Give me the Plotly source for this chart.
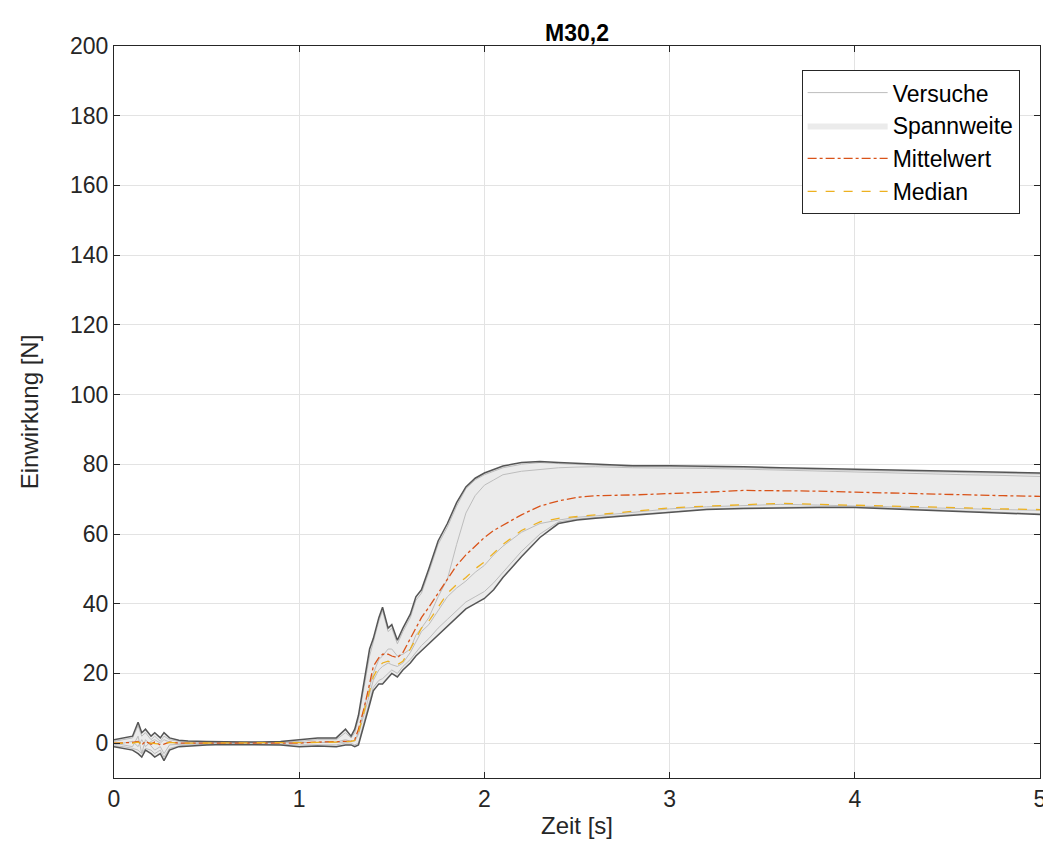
import plotly.graph_objects as go

# Common time base [s]
t = [0, 0.05, 0.1, 0.13, 0.15, 0.17, 0.2, 0.22, 0.25, 0.27, 0.3, 0.35, 0.4, 0.5, 0.6, 0.7, 0.8, 0.9,
     1.0, 1.1, 1.2, 1.25, 1.28, 1.3, 1.32, 1.35, 1.38, 1.4, 1.43, 1.45, 1.48, 1.5, 1.53, 1.56, 1.6,
     1.63, 1.66, 1.7, 1.75, 1.8, 1.85, 1.9, 1.95, 2.0, 2.05, 2.1, 2.2, 2.3, 2.4, 2.5, 2.6, 2.8, 3.0,
     3.2, 3.4, 3.6, 3.8, 4.0, 4.2, 4.4, 4.6, 4.8, 5.0]

# Range envelope (Spannweite)
upper = [1, 1.5, 2, 6, 3, 4, 2, 3, 1.5, 3, 1.5, 0.8, 0.6, 0.5, 0.3, 0.3, 0.3, 0.5,
         1, 1.5, 1.5, 4, 2, 4, 8, 18, 27, 30, 36, 39, 33, 34, 29.5, 33, 37,
         42, 44, 50, 58, 63, 69, 73.5, 76, 77.5, 78.5, 79.5, 80.5, 80.8, 80.5, 80.3, 80, 79.6, 79.6,
         79.5, 79.3, 79, 78.8, 78.5, 78.2, 78, 77.8, 77.6, 77.5]
lower = [-1, -1.5, -2, -3, -4, -2, -3, -4, -3, -5, -2, -1, -0.8, -0.5, -0.4, -0.4, -0.3, -0.5,
         -1, -0.8, -1, -0.5, -0.5, -1, -0.5, 5, 11, 15, 17, 17, 19, 20, 19, 21, 23,
         25, 26.5, 28.5, 31, 33.5, 36, 38.5, 40, 41.5, 44, 47.5, 53.5, 59, 63, 64, 64.5, 65.3, 66,
         67, 67.3, 67.5, 67.6, 67.6, 67.2, 66.8, 66.2, 65.8, 65.6]

# Mean and median
mean = [0, 0, 0.2, 0.5, -0.5, 0.5, -0.3, 0.3, -0.5, -0.3, 0.3, 0, 0, 0, 0, 0, 0, 0,
        0, 0.3, 0.3, 0.5, 0.6, 1, 4, 10, 17, 22, 24.5, 25.5, 25.5, 25, 24.5, 26, 30,
        33, 36, 39, 43, 47, 51, 54, 56.5, 59, 61, 62.5, 65.5, 68, 69.5, 70.5, 71, 71.2, 71.5,
        72, 72.5, 72.5, 72.3, 72, 71.7, 71.5, 71.2, 71, 70.8]
median = [0, 0, 0, 0.3, -0.3, 0.2, 0, 0, -0.3, 0, 0.2, 0, 0, 0, 0, 0, 0, 0,
          0, 0.2, 0.3, 0.4, 0.5, 0.8, 3, 9, 15, 19, 22, 23, 23.5, 23, 22.5, 23.5, 27,
          30, 33, 35, 39, 43, 45.5, 47.5, 50, 52, 54.5, 57, 61, 63.5, 64.5, 65, 65.5, 66.5, 67.5,
          68, 68.5, 68.8, 68.5, 68.3, 68, 67.8, 67.5, 67.2, 67]

# Individual tests (Versuche)
trial_a = [0.5, 1, 1.5, 5, 2, 3, 1, 2, 0.5, 2, 1, 0.5, 0.3, 0.3, 0.2, 0.2, 0.2, 0.3,
           0.5, 1, 1, 3, 1.5, 3, 7, 16, 25, 29, 35, 38, 32, 33, 28.5, 32, 36,
           41, 43, 49, 57, 62, 68, 73, 75.5, 77, 78, 79, 80, 80.5, 80.2, 80, 79.7, 79.3, 79.3,
           79.2, 79, 78.7, 78.5, 78.2, 77.9, 77.7, 77.5, 77.3, 77.2]
trial_b = [0, -0.5, -1, 2, -3, 1, -1, -2, -1, -3, -0.5, -0.3, -0.2, 0, 0, 0, 0, 0,
           0, 0.2, 0.3, 1, 0.5, 0.8, 3, 10, 16, 20, 24, 25, 27, 27, 25, 25.5, 27,
           31, 33, 36, 42, 47, 57, 66, 71, 74, 75.5, 77, 78, 78.5, 79, 79.2, 79.3, 79, 79,
           78.8, 78.6, 78.3, 78, 77.8, 77.5, 77.3, 77, 76.8, 76.5]
trial_c = [-0.5, 0, 0.5, -1, 1, -1, 0.5, 1, 0, 1, 0.3, 0, 0, 0, 0, 0, 0, 0,
           0, 0.2, 0.2, 0.3, 0.4, 0.6, 2.5, 8, 14, 18, 21, 22, 23, 22.5, 22, 23, 26,
           29, 32, 34, 38, 42, 44.5, 46.5, 49, 51, 54, 56.5, 60.5, 63, 64, 64.8, 65.2, 66.2, 67.2,
           67.8, 68.2, 68.5, 68.3, 68, 67.8, 67.5, 67.2, 67, 66.8]
trial_d = [-0.8, -1, -1.5, -2, -3, -1.5, -2, -3, -2, -4, -1.5, -0.8, -0.5, -0.3, -0.3, -0.3, -0.2, -0.3,
           -0.5, -0.5, -0.5, 0, 0, -0.5, 0, 6, 12, 16, 18, 18.5, 20, 21, 20, 22, 24,
           26, 28, 30, 33, 35.5, 38, 40.5, 42, 43.5, 46, 49, 55, 60, 63.5, 64.3, 64.8, 65.6, 66.3,
           67.2, 67.5, 67.7, 67.8, 67.8, 67.4, 67, 66.5, 66, 65.8]
trials = [trial_a, trial_b, trial_c, trial_d]

FONT = "Liberation Sans, Arial, sans-serif"

fig = go.Figure()

# Range band
fig.add_trace(go.Scatter(x=t, y=lower, mode="lines", line=dict(width=0, color="rgba(0,0,0,0)"),
                         showlegend=False, hoverinfo="skip"))
fig.add_trace(go.Scatter(x=t, y=upper, mode="lines", fill="tonexty", fillcolor="#EBEBEB",
                         line=dict(width=0, color="rgba(0,0,0,0)"), name="Spannweite"))

# Trials
for i, tr in enumerate(trials):
    fig.add_trace(go.Scatter(x=t, y=tr, mode="lines", line=dict(color="#BDBDBD", width=1),
                             name="Versuche", showlegend=(i == 0), legendrank=1))
fig.data[1].legendrank = 2

# Envelope edges
for edge in (upper, lower):
    fig.add_trace(go.Scatter(x=t, y=edge, mode="lines", line=dict(color="#555555", width=1.5),
                             showlegend=False, hoverinfo="skip"))

fig.add_trace(go.Scatter(x=t, y=mean, mode="lines", name="Mittelwert", legendrank=3,
                         line=dict(color="#D95319", width=1.3, dash="dashdot")))
fig.add_trace(go.Scatter(x=t, y=median, mode="lines", name="Median", legendrank=4,
                         line=dict(color="#EDB120", width=1.3, dash="dash")))

axis_common = dict(showline=True, linecolor="#262626", linewidth=1, mirror="allticks",
                   ticks="inside", ticklen=6, tickcolor="#262626", showgrid=True,
                   gridcolor="#E3E3E3", gridwidth=1, zeroline=False,
                   tickfont=dict(family=FONT, size=23, color="#262626"))

fig.update_xaxes(range=[0, 5], dtick=1, tick0=0,
                 title=dict(text="Zeit [s]", font=dict(family=FONT, size=24, color="#262626"),
                            standoff=6),
                 **axis_common)
fig.update_yaxes(range=[-10, 200], dtick=20, tick0=0,
                 title=dict(text="Einwirkung [N]", font=dict(family=FONT, size=24, color="#262626"),
                            standoff=24),
                 **axis_common)

# Page body has an 8px margin, so margins are reduced by 8px to land the plot area correctly
W, H = 1043, 852
fig.update_layout(
    width=W, height=H,
    margin=dict(l=106, r=11, t=38, b=82, autoexpand=False),
    plot_bgcolor="white", paper_bgcolor="white",
    title=dict(text="<b>M30,2</b>", x=(106 + (W - 11)) / 2 / W, xanchor="center", y=1 - 25 / H,
               yanchor="middle", font=dict(family=FONT, size=23, color="#000000")),
    legend=dict(x=0.978, y=0.967, xanchor="right", yanchor="top", bgcolor="white",
                bordercolor="#262626", borderwidth=1, tracegroupgap=0, traceorder="normal",
                itemwidth=80,
                font=dict(family=FONT, size=23, color="#000000")),
    showlegend=True,
)

fig.write_html("out.html")
